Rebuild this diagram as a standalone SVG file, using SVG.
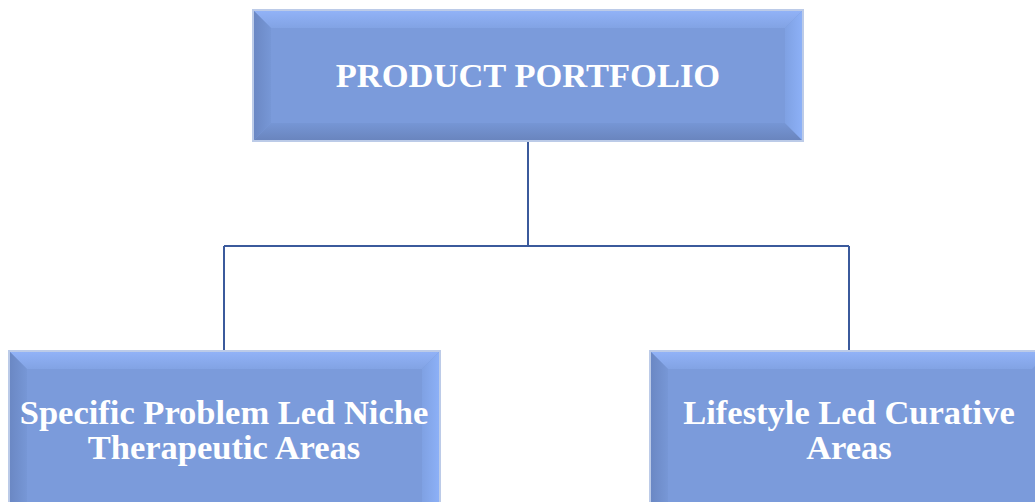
<svg xmlns="http://www.w3.org/2000/svg" width="1035" height="502" viewBox="0 0 1035 502">
<defs>
<linearGradient id="gT" x1="0" y1="0" x2="0" y2="1"><stop offset="0" stop-color="#92b3f8"/><stop offset="1" stop-color="#82a3e4"/></linearGradient>
<linearGradient id="gB" x1="0" y1="0" x2="0" y2="1"><stop offset="0" stop-color="#7696d5"/><stop offset="1" stop-color="#6984bd"/></linearGradient>
<linearGradient id="gL" x1="0" y1="0" x2="1" y2="0"><stop offset="0" stop-color="#6a87c3"/><stop offset="1" stop-color="#7797d6"/></linearGradient>
<linearGradient id="gR" x1="0" y1="0" x2="1" y2="0"><stop offset="0" stop-color="#7fa1e3"/><stop offset="1" stop-color="#8db1f8"/></linearGradient>
<style>
.face{fill:#7b9bdb}
.bt{fill:url(#gT)}
.bl{fill:url(#gL)}
.bb{fill:url(#gB)}
.br{fill:url(#gR)}
.edge{fill:none;stroke:#bccbe8;stroke-width:2}
.lbl{font-family:"Liberation Serif","Times New Roman",serif;font-weight:bold;font-size:34.5px;fill:#ffffff;text-anchor:middle}
.conn{fill:none;stroke:#3b5a9c;stroke-width:2}
</style>
</defs>
<g id="connectors">
<path class="conn" d="M528,141 V246 M224,246 H849 M224,246 V352 M849,246 V352"/>
</g>
<g id="node-portfolio">
<rect class="face" x="253" y="10" width="550" height="131"/>
<polygon class="bt" points="253,10 803,10 785,28 271,28"/>
<polygon class="bl" points="253,10 271,28 271,123 253,141"/>
<polygon class="bb" points="253,141 271,123 785,123 803,141"/>
<polygon class="br" points="803,10 803,141 785,123 785,28"/>
<rect class="edge" x="253" y="10" width="550" height="131"/>
<text class="lbl" x="528" y="87">PRODUCT PORTFOLIO</text>
</g>
<g id="node-niche">
<rect class="face" x="9" y="351" width="431" height="170"/>
<polygon class="bt" points="9,351 440,351 422,369 27,369"/>
<polygon class="bl" points="9,351 27,369 27,521 9,521"/>
<polygon class="br" points="440,351 440,521 422,521 422,369"/>
<rect class="edge" x="9" y="351" width="431" height="170"/>
<text class="lbl" x="224" y="424">Specific Problem Led Niche</text>
<text class="lbl" x="224" y="459">Therapeutic Areas</text>
</g>
<g id="node-lifestyle">
<rect class="face" x="650" y="351" width="400" height="170"/>
<polygon class="bt" points="650,351 1050,351 1032,369 668,369"/>
<polygon class="bl" points="650,351 668,369 668,521 650,521"/>
<rect class="edge" x="650" y="351" width="400" height="170"/>
<text class="lbl" x="849" y="424">Lifestyle Led Curative</text>
<text class="lbl" x="849" y="459">Areas</text>
</g>
</svg>
